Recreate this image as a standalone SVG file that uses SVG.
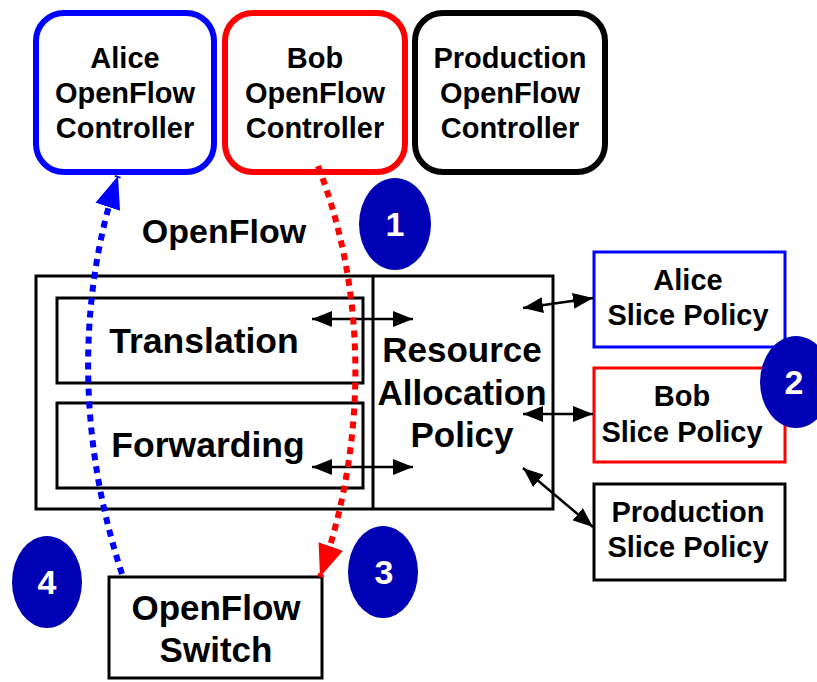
<svg xmlns="http://www.w3.org/2000/svg" width="817" height="682" viewBox="0 0 817 682">
<style>
text{font-family:"Liberation Sans",Arial,sans-serif;font-weight:bold;fill:#000;text-anchor:middle}
.ctl{fill:#fff;stroke-width:6}
.box{fill:#fff;stroke-width:3}
.num{fill:#0000b4}
.numt{fill:#fff;font-size:34px}
.dbl{stroke:#000;stroke-width:2.5;fill:none;marker-start:url(#ah);marker-end:url(#ah)}
.dot{fill:none;stroke-width:6;stroke-dasharray:7 6}
</style>
<defs>
<marker id="ah" viewBox="0 0 10 8" refX="10" refY="4" markerWidth="8" markerHeight="6.4" markerUnits="strokeWidth" orient="auto-start-reverse"><path d="M0,0L10,4L0,8z" fill="#000"/></marker>
<marker id="ab" viewBox="0 0 10 8" refX="10" refY="4" markerWidth="5.4" markerHeight="4.32" markerUnits="strokeWidth" orient="auto"><path d="M0,0L10,4L0,8z" fill="#0000ff"/></marker>
<marker id="ar" viewBox="0 0 10 8" refX="10" refY="4" markerWidth="5.4" markerHeight="4.32" markerUnits="strokeWidth" orient="auto"><path d="M0,0L10,4L0,8z" fill="#ff0000"/></marker>
</defs>
<rect width="817" height="682" fill="#fff"/>

<g id="alice-controller">
<rect class="ctl" x="36" y="13" width="178" height="159" rx="28" stroke="#0000ff"/>
<text x="125" y="68" font-size="29">Alice</text>
<text x="125" y="103" font-size="29">OpenFlow</text>
<text x="125" y="138" font-size="29">Controller</text>
</g>
<g id="bob-controller">
<rect class="ctl" x="225" y="13" width="180" height="159" rx="28" stroke="#ff0000"/>
<text x="315" y="68" font-size="29">Bob</text>
<text x="315" y="103" font-size="29">OpenFlow</text>
<text x="315" y="138" font-size="29">Controller</text>
</g>
<g id="production-controller">
<rect class="ctl" x="415" y="13" width="190" height="159" rx="28" stroke="#000"/>
<text x="510" y="68" font-size="29">Production</text>
<text x="510" y="103" font-size="29">OpenFlow</text>
<text x="510" y="138" font-size="29">Controller</text>
</g>

<g id="openflow-label">
<text x="224" y="243" font-size="34">OpenFlow</text>
</g>

<g id="flowvisor">
<rect class="box" x="36" y="276" width="517" height="233" stroke="#000"/>
<line x1="373" y1="276" x2="373" y2="509" stroke="#000" stroke-width="3"/>
</g>
<g id="translation">
<rect class="box" x="57" y="298" width="306" height="85" stroke="#000"/>
<text x="204" y="353" font-size="35.5">Translation</text>
</g>
<g id="forwarding">
<rect class="box" x="57" y="403" width="306" height="85" stroke="#000"/>
<text x="208" y="457" font-size="35.5">Forwarding</text>
</g>
<g id="resource-allocation-policy">
<text x="462" y="362" font-size="35">Resource</text>
<text x="462" y="405" font-size="35">Allocation</text>
<text x="462" y="447" font-size="35">Policy</text>
</g>

<g id="alice-slice-policy">
<rect class="box" x="594" y="252" width="191" height="95" stroke="#0000ff"/>
<text x="688" y="290" font-size="29">Alice</text>
<text x="688" y="325" font-size="29">Slice Policy</text>
</g>
<g id="bob-slice-policy">
<rect class="box" x="594" y="368" width="191" height="94" stroke="#ff0000"/>
<text x="682" y="406" font-size="29">Bob</text>
<text x="682" y="442" font-size="29">Slice Policy</text>
</g>
<g id="production-slice-policy">
<rect class="box" x="594" y="484" width="191" height="96" stroke="#000"/>
<text x="688" y="522" font-size="29">Production</text>
<text x="688" y="557" font-size="29">Slice Policy</text>
</g>

<g id="openflow-switch">
<rect class="box" x="109" y="577" width="213" height="101" stroke="#000"/>
<text x="216" y="620" font-size="35">OpenFlow</text>
<text x="216" y="662" font-size="35">Switch</text>
</g>

<g id="connectors">
<line class="dbl" x1="312" y1="319" x2="413" y2="319"/>
<line class="dbl" x1="312" y1="467" x2="413" y2="467"/>
<line class="dbl" x1="523" y1="308" x2="593" y2="298"/>
<line class="dbl" x1="523" y1="414" x2="593" y2="414"/>
<line class="dbl" x1="523" y1="468" x2="593" y2="527"/>
<path class="dot" d="M122,574 C75,430 80,290 118,176" stroke="#0000ff" marker-end="url(#ab)"/>
<path class="dot" d="M318,166 C370,300 365,450 320,577" stroke="#ff0000" marker-end="url(#ar)"/>
</g>

<g id="step-1"><ellipse class="num" cx="395" cy="224" rx="36" ry="46"/><text class="numt" x="395" y="236">1</text></g>
<g id="step-2"><ellipse class="num" cx="796" cy="382" rx="36" ry="46"/><text class="numt" x="794" y="394">2</text></g>
<g id="step-3"><ellipse class="num" cx="383" cy="572" rx="35" ry="46"/><text class="numt" x="384" y="584">3</text></g>
<g id="step-4"><ellipse class="num" cx="47" cy="582" rx="35" ry="46"/><text class="numt" x="47" y="594">4</text></g>
</svg>
